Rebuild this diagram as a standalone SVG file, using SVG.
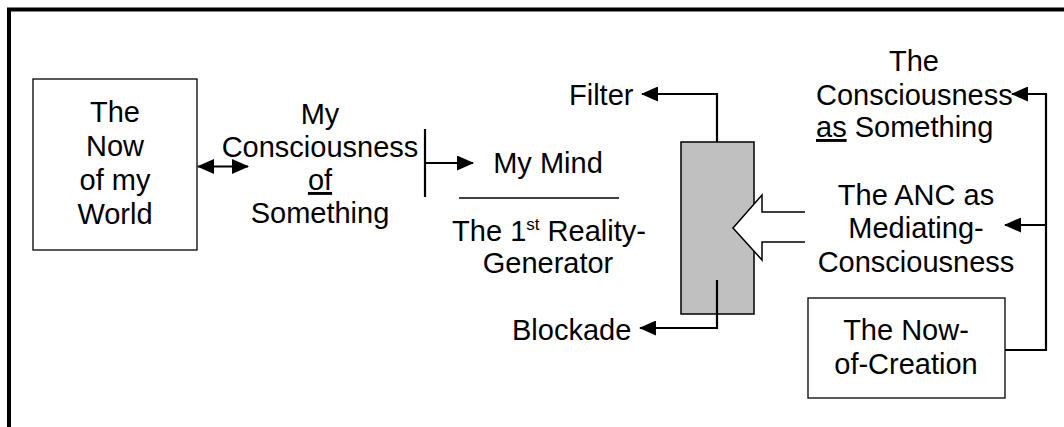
<svg xmlns="http://www.w3.org/2000/svg" width="1064" height="427" viewBox="0 0 1064 427">
<style>
text{font-family:"Liberation Sans",Arial,sans-serif;font-size:29px;fill:#000}
.c{text-anchor:middle}
.box{fill:#fff;stroke:#000;stroke-width:1.3}
.ln{fill:none;stroke:#000;stroke-width:2.2}
.u{text-decoration:underline}
</style>
<defs>
<marker id="ah" markerUnits="userSpaceOnUse" markerWidth="17" markerHeight="15" refX="16" refY="7.5" orient="auto-start-reverse" viewBox="0 0 17 15">
<path d="M0,0 L17,7.5 L0,15 Z" fill="#000"/>
</marker>
</defs>
<path d="M9,427 V9.5 H1064" fill="none" stroke="#000" stroke-width="4"/>
<g id="now-world">
<rect class="box" x="33" y="79" width="164" height="171"/>
<text class="c" x="115" y="122">The</text>
<text class="c" x="115" y="156">Now</text>
<text class="c" x="115" y="190">of my</text>
<text class="c" x="115" y="224">World</text>
</g>
<g id="my-consciousness">
<text class="c" x="320" y="124">My</text>
<text class="c" x="320" y="157">Consciousness</text>
<text class="c" x="320" y="190"><tspan class="u">of</tspan></text>
<text class="c" x="320" y="223">Something</text>
</g>
<g id="my-mind">
<text class="c" x="548" y="173">My Mind</text>
<line x1="459" y1="198" x2="619" y2="198" stroke="#000" stroke-width="1.5"/>
<text class="c" x="549" y="241">The 1<tspan font-size="17" dy="-11">st</tspan><tspan dy="11"> Reality-</tspan></text>
<text class="c" x="548" y="273">Generator</text>
</g>
<g id="filter-block">
<rect x="681" y="142" width="73" height="172" fill="#c0c0c0" stroke="#000" stroke-width="1.5"/>
</g>
<g id="filter"><text x="569" y="105">Filter</text></g>
<g id="blockade"><text x="512" y="340">Blockade</text></g>
<g id="consciousness-as">
<text class="c" x="914" y="71">The</text>
<text x="816" y="105">Consciousness</text>
<text x="816" y="137"><tspan class="u">as</tspan> Something</text>
</g>
<g id="anc">
<text class="c" x="916" y="205">The ANC as</text>
<text class="c" x="916" y="238">Mediating-</text>
<text class="c" x="916" y="272">Consciousness</text>
</g>
<g id="now-creation">
<rect class="box" x="808" y="298" width="197" height="100"/>
<text class="c" x="906" y="340">The Now-</text>
<text class="c" x="906" y="374">of-Creation</text>
</g>
<g id="connectors">
<line class="ln" x1="198" y1="166.5" x2="248" y2="166.5" marker-start="url(#ah)" marker-end="url(#ah)"/>
<line class="ln" x1="425" y1="129" x2="425" y2="197"/>
<line class="ln" x1="425" y1="163" x2="473" y2="163" marker-end="url(#ah)"/>
<polyline class="ln" points="717,142 717,94 642,94" marker-end="url(#ah)"/>
<polyline class="ln" points="717,280 717,328 640,328" marker-end="url(#ah)"/>
<path d="M733,228 L762,195 L762,212 L805,212 L805,242 L762,242 L762,260 Z" fill="#fff" stroke="none"/>
<path d="M805,212 L762,212 L762,195 L733,228 L762,260 L762,242 L805,242" fill="none" stroke="#000" stroke-width="1.5"/>
<polyline class="ln" points="1005,350 1046,350 1046,94 1012,94" marker-end="url(#ah)"/>
<line class="ln" x1="1046" y1="225" x2="1005" y2="225" marker-end="url(#ah)"/>
</g>
</svg>
